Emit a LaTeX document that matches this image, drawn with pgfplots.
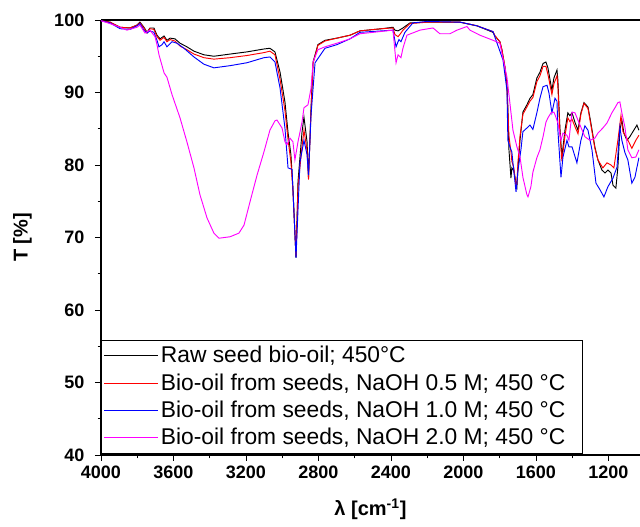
\documentclass[border=0pt]{standalone}
\usepackage{fontspec}
\setmainfont{Liberation Sans}
\usepackage{pgfplots}
\pgfplotsset{compat=1.18}
\usepackage{pgfplotstable}
\definecolor{mag}{RGB}{255,0,255}
\definecolor{rd}{RGB}{255,0,0}
\definecolor{bl}{RGB}{0,0,255}

\pgfplotstableread{
w T
4000 99.9
3950 99.7
3895 99.0
3840 98.9
3801 99.3
3785 99.7
3763 99.0
3746 98.3
3730 98.9
3708 98.9
3691 97.9
3674 97.4
3652 97.8
3636 97.2
3619 97.5
3592 97.4
3564 96.8
3526 96.3
3487 95.7
3432 95.2
3377 95.0
3288 95.3
3195 95.6
3101 96.0
3068 96.1
3040 95.6
3012 92.8
2985 88.7
2968 84.5
2952 81.4
2941 76.8
2924 67.2
2913 77.7
2891 84.5
2880 86.6
2863 83.2
2855 78.2
2841 87.9
2830 94.2
2803 96.6
2764 97.2
2698 97.5
2626 97.9
2571 98.5
2450 98.8
2389 99.0
2378 98.6
2361 98.5
2334 98.9
2295 99.6
2201 99.7
2019 99.7
1926 99.2
1837 98.3
1826 97.8
1799 97.0
1788 95.9
1771 93.5
1760 91.0
1755 88.0
1749 82.1
1738 78.2
1733 79.6
1722 79.2
1710 77.5
1705 77.0
1699 79.7
1688 83.4
1672 87.3
1650 88.3
1633 89.2
1617 89.7
1595 92.0
1578 92.8
1561 94.0
1545 94.2
1534 93.4
1512 90.3
1501 92.0
1484 93.1
1479 91.7
1468 85.2
1457 81.1
1440 84.8
1424 87.2
1413 86.8
1401 87.2
1385 85.9
1368 84.8
1352 87.2
1335 88.6
1313 88.0
1297 85.8
1275 82.5
1258 80.7
1236 79.3
1219 78.9
1203 79.3
1186 78.9
1175 77.2
1159 76.8
1148 79.7
1137 84.8
1126 86.2
1115 84.4
1098 83.4
1082 83.9
1065 84.6
1043 85.5
1032 84.8
}\rawoil

\pgfplotstableread{
w T
4000 99.9
3950 99.7
3895 99.0
3840 98.9
3801 99.3
3785 99.6
3763 98.9
3746 98.2
3730 98.8
3708 98.7
3691 97.7
3674 97.2
3652 97.6
3636 97.0
3619 97.3
3592 97.1
3564 96.4
3526 95.9
3487 95.3
3432 94.8
3377 94.6
3288 94.8
3195 95.1
3101 95.5
3068 95.7
3040 95.2
3012 91.8
2985 87.5
2968 83.5
2952 80.4
2941 76.5
2924 67.4
2913 77.0
2891 82.5
2880 84.8
2863 82.0
2855 78.0
2841 87.5
2830 94.0
2803 96.5
2764 97.1
2698 97.5
2626 97.9
2571 98.5
2450 98.8
2389 98.9
2378 98.0
2361 97.7
2345 98.2
2334 98.6
2295 99.5
2201 99.7
2019 99.7
1926 99.2
1837 98.4
1826 97.8
1799 97.0
1788 95.9
1771 93.5
1760 90.5
1755 87.5
1749 84.0
1738 81.8
1733 80.5
1722 79.6
1710 77.0
1705 77.5
1699 80.5
1688 84.0
1672 87.0
1650 88.0
1633 88.8
1617 89.3
1595 91.5
1578 92.3
1561 93.6
1545 93.6
1534 92.5
1512 89.7
1501 91.2
1484 92.3
1479 90.8
1468 84.5
1457 80.5
1440 84.0
1424 86.5
1413 86.0
1401 86.3
1385 85.3
1368 84.3
1352 87.0
1335 88.5
1313 87.8
1297 85.5
1275 82.3
1258 80.7
1231 79.6
1208 80.3
1186 80.0
1170 79.6
1148 83.4
1131 86.8
1120 84.6
1098 83.7
1071 82.3
1049 83.4
1032 84.1
}\naohhalf

\pgfplotstableread{
w T
4000 99.9
3950 99.6
3895 98.8
3840 98.7
3801 99.2
3785 99.5
3763 98.6
3746 98.2
3730 98.5
3708 98.3
3691 97.2
3680 96.3
3663 96.6
3652 97.0
3636 96.3
3608 97.0
3581 96.8
3542 96.1
3487 94.9
3432 93.9
3377 93.4
3288 93.7
3195 94.1
3101 94.8
3068 94.9
3040 94.2
3012 90.6
2985 85.1
2968 79.6
2946 79.4
2924 67.2
2902 80.4
2880 83.4
2863 81.4
2855 78.6
2841 86.9
2819 94.1
2764 96.1
2698 96.6
2626 97.4
2571 98.3
2389 98.6
2372 96.3
2361 97.0
2356 97.3
2345 97.0
2323 98.3
2279 99.6
2201 99.8
2019 99.7
1926 99.2
1837 98.4
1826 97.6
1782 94.5
1760 90.3
1755 83.4
1744 82.5
1733 81.8
1727 80.3
1710 76.3
1699 79.3
1683 82.1
1672 84.6
1650 85.1
1633 85.5
1617 84.9
1595 87.2
1578 89.2
1561 90.8
1539 91.0
1528 89.9
1512 87.2
1495 89.2
1484 88.8
1479 84.8
1462 78.3
1451 81.1
1429 83.4
1418 82.5
1401 82.5
1374 80.3
1352 83.4
1330 85.4
1313 84.8
1291 82.1
1269 77.5
1247 76.6
1225 75.6
1203 77.0
1175 78.2
1153 79.7
1137 85.2
1126 83.4
1109 81.7
1093 80.7
1071 77.5
1054 78.3
1032 81.0
}\naohone

\pgfplotstableread{
w T
4000 99.9
3950 99.5
3895 99.0
3857 98.6
3801 99.0
3785 99.3
3757 98.2
3730 98.6
3702 97.7
3691 96.6
3680 95.2
3652 92.7
3636 92.1
3608 89.7
3564 86.5
3526 83.2
3487 79.6
3454 75.9
3415 72.7
3377 70.6
3349 69.9
3288 70.1
3239 70.6
3211 71.7
3178 74.9
3139 78.6
3101 81.8
3068 84.8
3040 86.1
3029 86.2
3001 85.1
2985 83.2
2974 82.8
2957 83.7
2941 83.2
2930 80.7
2913 83.2
2891 85.9
2880 87.9
2858 88.3
2841 90.6
2830 94.2
2803 95.9
2764 96.3
2698 96.8
2626 97.4
2571 98.1
2389 98.6
2372 94.1
2361 95.2
2345 94.8
2334 96.1
2312 97.9
2240 98.6
2168 98.9
2130 98.1
2075 98.1
2036 98.6
2003 98.9
1981 99.1
1964 98.6
1909 97.9
1837 97.2
1799 96.8
1788 95.4
1760 92.1
1744 88.6
1727 84.8
1705 82.5
1688 81.1
1672 78.3
1650 75.9
1644 75.6
1628 77.0
1617 79.0
1595 81.0
1578 82.1
1561 83.9
1545 85.9
1534 86.5
1517 87.2
1501 87.3
1490 86.6
1479 85.8
1462 83.4
1451 84.4
1429 84.1
1418 83.4
1401 87.3
1385 87.2
1357 85.5
1330 83.9
1302 83.4
1275 83.7
1258 84.4
1231 85.1
1208 85.8
1181 87.2
1164 87.9
1148 88.6
1137 88.7
1126 87.2
1109 85.2
1093 82.1
1071 81.0
1049 81.1
1032 82.1
}\naohtwo

\begin{document}
\begin{tikzpicture}
\path[use as bounding box] (-75.75pt,-54pt) rectangle (404.25pt,341.25pt);
\begin{axis}[
  at={(0,0)}, anchor=south west,
  scale only axis, width=404.25pt, height=326.25pt,
  x dir=reverse, xmin=1026, xmax=4000, ymin=40, ymax=100,
  axis x line*=box, axis y line*=left,
  xtick={1200,1600,...,4000}, ytick={40,50,...,100},
  minor x tick num=1, minor y tick num=1,
  tick align=outside, xtick pos=bottom, ytick pos=left,
  major tick length=4.5pt, minor tick length=2.5pt,
  every tick/.style={black, line width=0.6pt},
  axis line style={line width=0.8pt},
  /pgf/number format/assume math mode=true,
  /pgf/number format/1000 sep={},
  ticklabel style={font=\bfseries\fontsize{13.5}{14}\selectfont},
  yticklabel style={xshift=-4.5pt},
  xlabel={\bfseries λ [cm\textsuperscript{-1}]},
  label style={font=\bfseries\fontsize{15}{16}\selectfont},
  xlabel style={at={(axis description cs:0.5,0)}, anchor=center, yshift=-41pt},
  legend style={at={(axis description cs:0,0.004)}, anchor=south west, draw=black, line width=0.5pt,
    font=\fontsize{17.1}{20}\selectfont, inner xsep=2pt, inner ysep=2.5pt, row sep=2.6pt},
  legend cell align=left,
  legend image code/.code={\draw[#1, line width=0.6pt] (0pt,0pt) -- (37pt,0pt); \path (0pt,0pt) -- (40pt,0pt);},
  every axis plot/.append style={line width=0.7pt},
]
\addplot[black] table[x=w, y=T] {\rawoil};
\addlegendentry{Raw seed bio-oil; 450°C}
\addplot[rd] table[x=w, y=T] {\naohhalf};
\addlegendentry{Bio-oil from seeds, NaOH 0.5 M; 450 °C\hspace*{9pt}}
\addplot[bl] table[x=w, y=T] {\naohone};
\addlegendentry{Bio-oil from seeds, NaOH 1.0 M; 450 °C\hspace*{9pt}}
\addplot[mag] table[x=w, y=T] {\naohtwo};
\addlegendentry{Bio-oil from seeds, NaOH 2.0 M; 450 °C\hspace*{9pt}}
\end{axis}
\node[rotate=90, anchor=center, font=\bfseries\fontsize{15}{16}\selectfont] at (-59pt,163.125pt) {T [\%]};
\end{tikzpicture}
\end{document}
